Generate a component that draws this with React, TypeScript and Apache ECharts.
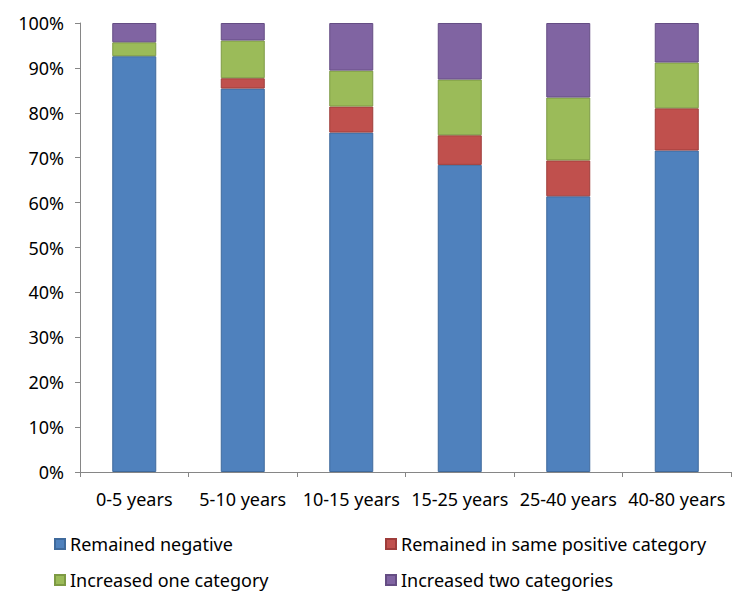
import React, { useEffect, useRef } from "react";
import * as echarts from "echarts";

const categories = ["0-5 years", "5-10 years", "10-15 years", "15-25 years", "25-40 years", "40-80 years"];
const remainedNegative = [92.6, 85.4, 75.6, 68.4, 61.4, 71.6];
const remainedSamePositive = [0, 2.3, 5.8, 6.6, 8.0, 9.4];
const increasedOne = [3.1, 8.4, 8.0, 12.4, 14.0, 10.2];
const increasedTwo = [4.3, 3.9, 10.6, 12.6, 16.6, 8.8];
const yTicks = [0, 10, 20, 30, 40, 50, 60, 70, 80, 90, 100];

const seriesNames = [
  "Remained negative",
  "Remained in same positive category",
  "Increased one category",
  "Increased two categories",
];
const colors = ["#4F81BD", "#C0504D", "#9BBB59", "#8064A2"];
const borders = ["#3F6A9C", "#9E3C3A", "#7D9A44", "#654D84"];

const FONT = "'Noto Sans', sans-serif";

export default function App() {
  const ref = useRef<HTMLDivElement>(null);
  useEffect(() => {
    if (!ref.current) return;
    const chart = echarts.init(ref.current, undefined, { renderer: "svg" });
    const datasets = [remainedNegative, remainedSamePositive, increasedOne, increasedTwo];
    const legendBase = {
      orient: "vertical",
      top: 535,
      padding: 0,
      icon: "rect",
      itemWidth: 10,
      itemHeight: 10,
      itemGap: 18,
      textStyle: { fontSize: 18, color: "#000", fontFamily: FONT },
    };
    chart.setOption({
      animation: false,
      backgroundColor: "#ffffff",
      textStyle: { fontFamily: FONT },
      grid: { left: 80, right: 19, top: 23, bottom: 137, containLabel: false },
      legend: [
        { ...legendBase, left: 54, data: [seriesNames[0], seriesNames[2]] },
        { ...legendBase, left: 385, data: [seriesNames[1], seriesNames[3]] },
      ],
      xAxis: {
        type: "category",
        data: categories,
        axisLine: { show: true, lineStyle: { color: "#868686" } },
        axisTick: { show: true, length: 5, lineStyle: { color: "#868686" } },
        axisLabel: { fontSize: 18, color: "#000", margin: 18, fontFamily: FONT, interval: 0 },
      },
      yAxis: {
        type: "value",
        min: yTicks[0],
        max: yTicks[yTicks.length - 1],
        interval: 10,
        axisLine: { show: true, lineStyle: { color: "#868686" } },
        axisTick: { show: true, length: 5, lineStyle: { color: "#868686" } },
        splitLine: { show: false },
        axisLabel: { fontSize: 18, color: "#000", margin: 16, formatter: "{value}%", fontFamily: FONT },
      },
      series: datasets.map((d, i) => ({
        name: seriesNames[i],
        type: "bar",
        stack: "total",
        barWidth: 44,
        data: d.map((v) => (v === 0 ? null : v)),
        itemStyle: { color: colors[i], borderColor: borders[i], borderWidth: 1 },
      })),
    });
    return () => chart.dispose();
  }, []);
  return (
    <div
      ref={ref}
      style={{ position: "fixed", left: 0, top: 0, width: 750, height: 609 }}
    />
  );
}
